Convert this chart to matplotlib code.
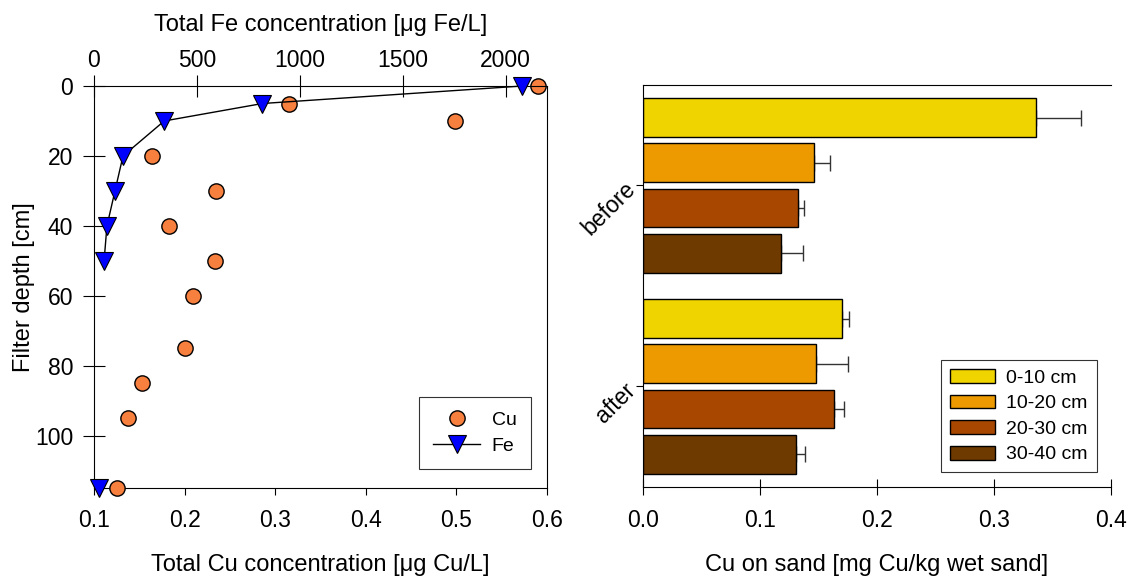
import matplotlib.pyplot as plt
import numpy as np

plt.rcParams['font.family'] = ['Liberation Sans', 'DejaVu Sans']

# Left panel: concentration profiles
cu_depth = [0, 5, 10, 20, 30, 40, 50, 60, 75, 85, 95, 115]
cu_conc = [0.590, 0.315, 0.499, 0.164, 0.235, 0.183, 0.234, 0.209, 0.200, 0.153, 0.138, 0.125]
fe_depth_line = [0, 5, 10, 20, 30, 40, 50]
fe_conc_line = [2078, 818, 341, 141, 102, 63, 49]
fe_depth_end = [115]
fe_conc_end = [26]

# Right panel: Cu on sand
layers = ['0-10 cm', '10-20 cm', '20-30 cm', '30-40 cm']
groups = ['before', 'after']
cu_sand = {
    'before': [0.336, 0.146, 0.133, 0.118],
    'after': [0.170, 0.148, 0.163, 0.131],
}
cu_sand_err = {
    'before': [0.039, 0.014, 0.005, 0.019],
    'after': [0.006, 0.027, 0.009, 0.008],
}
layer_colors = ['#F0D400', '#EC9A00', '#A84800', '#6E3A00']

fig = plt.figure(figsize=(11.31, 5.77), dpi=100)
fs = 16.5     # tick labels
fsl = 17      # axis labels
lfs = 14      # legends

# ---- left panel
ax1 = fig.add_axes([0.0831, 0.1542, 0.4005, 0.6967])
ax1.plot(cu_conc, cu_depth, 'o', color='#F8803F', markeredgecolor='black',
         markeredgewidth=1, markersize=11, label='Cu', zorder=3, clip_on=False)
ax1.set_xlim(0.1, 0.6)
ax1.set_ylim(115, 0)
ax1.set_xticks([0.1, 0.2, 0.3, 0.4, 0.5, 0.6])
ax1.set_yticks([0, 20, 40, 60, 80, 100])
ax1.set_xlabel('Total Cu concentration [\u03bcg Cu/L]', fontsize=fsl, labelpad=16)
ax1.set_ylabel('Filter depth [cm]', fontsize=fsl, labelpad=0)
ax1.tick_params(axis='x', direction='out', length=5, labelsize=fs, pad=10)
ax1.tick_params(axis='y', direction='inout', length=16, labelsize=fs, pad=7)
ax1.spines['top'].set_visible(False)

ax2 = ax1.twiny()
ax2.plot(fe_conc_line, fe_depth_line, '-v', color='black', markerfacecolor='#0000FF',
         markeredgecolor='black', markeredgewidth=0.8, markersize=13, lw=1,
         label='Fe', zorder=3, clip_on=False)
ax2.plot(fe_conc_end, fe_depth_end, 'v', markerfacecolor='#0000FF',
         markeredgecolor='black', markeredgewidth=0.8, markersize=13,
         zorder=3, clip_on=False)
ax2.set_xlim(0, 2200)
ax2.set_ylim(115, 0)
ax2.set_xticks([0, 500, 1000, 1500, 2000])
ax2.set_xlabel('Total Fe concentration [\u03bcg Fe/L]', fontsize=fsl, labelpad=13)
ax2.tick_params(axis='x', direction='inout', length=16, labelsize=fs, pad=2)
for s in ['bottom', 'left', 'right']:
    ax2.spines[s].set_visible(False)

h1, l1 = ax1.get_legend_handles_labels()
h2, l2 = ax2.get_legend_handles_labels()
leg = ax1.legend(h1 + h2, l1 + l2, loc='lower right', bbox_to_anchor=(0.965, 0.047),
                 borderaxespad=0, fontsize=lfs, frameon=True, fancybox=False,
                 edgecolor='black', handlelength=2.4, borderpad=0.75,
                 labelspacing=0.4, handletextpad=0.6)
leg.get_frame().set_linewidth(0.8)
leg.set_zorder(5)

# ---- right panel
ax3 = fig.add_axes([0.5685, 0.156, 0.4135, 0.6967])
step = 0.224
height = 0.194
for gi, g in enumerate(groups):
    for li, layer in enumerate(layers):
        y = gi + (li - 1.5) * step
        ax3.barh(y, cu_sand[g][li], height=height, color=layer_colors[li],
                 edgecolor='black', linewidth=1,
                 label=layer if gi == 0 else None, zorder=2)
        ax3.errorbar(cu_sand[g][li], y, xerr=[[0], [cu_sand_err[g][li]]],
                     fmt='none', ecolor='#333333', elinewidth=1, capsize=6,
                     capthick=1, zorder=1)
ax3.set_xlim(0, 0.4)
ax3.set_ylim(1.5, -0.5)
ax3.set_xticks([0.0, 0.1, 0.2, 0.3, 0.4])
ax3.set_yticks([0, 1])
ax3.set_yticklabels(groups, rotation=45, ha='right', va='center', rotation_mode='anchor')
ax3.set_xlabel('Cu on sand [mg Cu/kg wet sand]', fontsize=fsl, labelpad=16)
ax3.tick_params(axis='x', direction='inout', length=12, labelsize=fs, pad=10)
ax3.tick_params(axis='y', direction='out', length=5, labelsize=fs, pad=3)
ax3.spines['right'].set_visible(False)
leg2 = ax3.legend(loc='lower right', bbox_to_anchor=(0.970, 0.037), borderaxespad=0,
                  fontsize=lfs, frameon=True, fancybox=False, edgecolor='black',
                  handlelength=2.3, handleheight=0.72, borderpad=0.45,
                  labelspacing=0.4, handletextpad=0.6)
leg2.get_frame().set_linewidth(0.8)

fig.savefig('out.png', dpi=100)
